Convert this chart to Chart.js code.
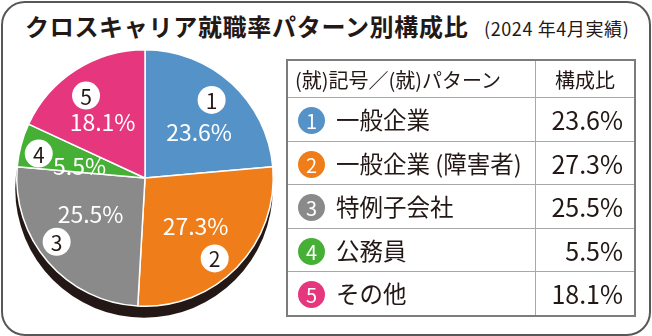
<!DOCTYPE html>
<html lang="ja">
<head>
<meta charset="utf-8">
<script src="https://cdn.jsdelivr.net/npm/chart.js@4"></script>
<style>
  html, body { margin: 0; padding: 0; background: #fff; }
  body { width: 652px; height: 336px; position: relative; overflow: hidden;
         font-family: "Noto Sans CJK JP", "Noto Sans", sans-serif; color: #231815; }
  .frame { position: absolute; left: 1px; top: 1px; width: 646px; height: 331px;
           border: 2.5px solid #5a5757; border-radius: 24px; }
  .title { position: absolute; left: 25px; top: 9px; font-size: 24px; font-weight: 700;
           letter-spacing: 0.7px; white-space: nowrap; line-height: 34px; }
  .sub { position: absolute; left: 484px; top: 14px; font-size: 18px; white-space: nowrap;
         line-height: 28px; letter-spacing: 0.6px; }
  #pieWrap { position: absolute; left: 0; top: 40px; width: 290px; height: 290px; }
  table { position: absolute; left: 286px; top: 59px; border-collapse: collapse;
          border: 2px solid #7d7b7b; }
  td, th { border: 1px solid #a9a7a7; padding: 0; white-space: nowrap; font-weight: 400; }
  th { height: 36px; font-size: 20px; }
  th.name { text-align: left; padding-left: 7px; width: 240px; }
  th.val { text-align: center; width: 98px; }
  td { height: 42.5px; font-size: 23.5px; }
  td.name { padding-left: 10px; }
  td.val { text-align: right; padding-right: 11px; font-size: 25px; }
  .dot { display: inline-block; width: 27px; height: 27px; border-radius: 50%; color: #fff;
         font-size: 20px; line-height: 27px; text-align: center; vertical-align: middle;
         margin-right: 11px; position: relative; top: -2px; }
</style>
</head>
<body>
<div class="frame"></div>
<div class="title">クロスキャリア就職率パターン別構成比</div>
<div class="sub">(2024 年4月実績)</div>
<div id="pieWrap"><canvas id="pie" width="290" height="290"></canvas></div>
<table id="tbl"></table>

<script>
// ── Data ──────────────────────────────────────────────────────────────────────
var patterns = ['一般企業', '一般企業 (障害者)', '特例子会社', '公務員', 'その他'];
var shares   = [23.6, 27.3, 25.5, 5.5, 18.1];
var colors   = ['#5592c8', '#ee7d1a', '#8a8a8a', '#45b035', '#e6367e'];
var headers  = ['(就)記号／(就)パターン', '構成比'];

// ── Table ─────────────────────────────────────────────────────────────────────
var html = '<tr><th class="name">' + headers[0] + '</th><th class="val">' + headers[1] + '</th></tr>';
patterns.forEach(function(p, i) {
  html += '<tr><td class="name"><span class="dot" style="background:' + colors[i] + '">' + (i + 1) +
          '</span>' + p + '</td><td class="val">' + shares[i].toFixed(1) + '%</td></tr>';
});
document.getElementById('tbl').innerHTML = html;

// ── Pie helpers ───────────────────────────────────────────────────────────────
var pieShadow = {
  id: 'pieShadow',
  beforeDatasetsDraw: function(chart) {
    var arc = chart.getDatasetMeta(0).data[0];
    var ctx = chart.ctx;
    ctx.save();
    ctx.fillStyle = '#231815';
    ctx.beginPath();
    ctx.arc(arc.x - 1, arc.y + 11, arc.outerRadius + 0.5, 0, Math.PI * 2);
    ctx.fill();
    ctx.restore();
  }
};

// hand placement tweaks per slice: [angle shift in degrees, fraction of radius]
var badgeTweak = [[-2, 0.80], [5, 0.83], [5, 0.85], [-2, 0.85], [-3, 0.79]];
var textTweak  = [[7, 0.555], [-1, 0.54], [8, 0.505], [-4, 0.52], [-4, 0.555]];

function polar(arc, tweak) {
  var a = (arc.startAngle + arc.endAngle) / 2 + tweak[0] * Math.PI / 180;
  var r = arc.outerRadius * tweak[1];
  return { x: arc.x + Math.cos(a) * r, y: arc.y + Math.sin(a) * r };
}

var sliceLabels = {
  id: 'sliceLabels',
  afterDatasetsDraw: function(chart) {
    var ctx = chart.ctx;
    var arcs = chart.getDatasetMeta(0).data;
    ctx.save();
    ctx.textAlign = 'center';
    ctx.textBaseline = 'middle';
    arcs.forEach(function(arc, i) {
      // numbered badge near the rim
      var b = polar(arc, badgeTweak[i]);
      ctx.fillStyle = '#fff';
      ctx.beginPath();
      ctx.arc(b.x, b.y, 14, 0, Math.PI * 2);
      ctx.fill();
      ctx.fillStyle = '#231815';
      ctx.font = '21px "Noto Sans CJK JP", sans-serif';
      ctx.fillText(String(i + 1), b.x, b.y + 1);
      // share inside the slice
      var t = polar(arc, textTweak[i]);
      ctx.fillStyle = '#fff';
      ctx.font = '23px "Noto Sans CJK JP", sans-serif';
      ctx.fillText(shares[i].toFixed(1) + '%', t.x, t.y + 1);
    });
    ctx.restore();
  }
};

// ── Pie ───────────────────────────────────────────────────────────────────────
new Chart(document.getElementById('pie'), {
  type: 'pie',
  data: {
    labels: patterns,
    datasets: [{ data: shares, backgroundColor: colors, borderColor: '#fff', borderWidth: 1.5 }]
  },
  options: {
    responsive: false,
    animation: false,
    layout: { padding: { left: 16, right: 16, top: 9, bottom: 23 } },
    plugins: { legend: { display: false }, tooltip: { enabled: false } }
  },
  plugins: [pieShadow, sliceLabels]
});
</script>
</body>
</html>
